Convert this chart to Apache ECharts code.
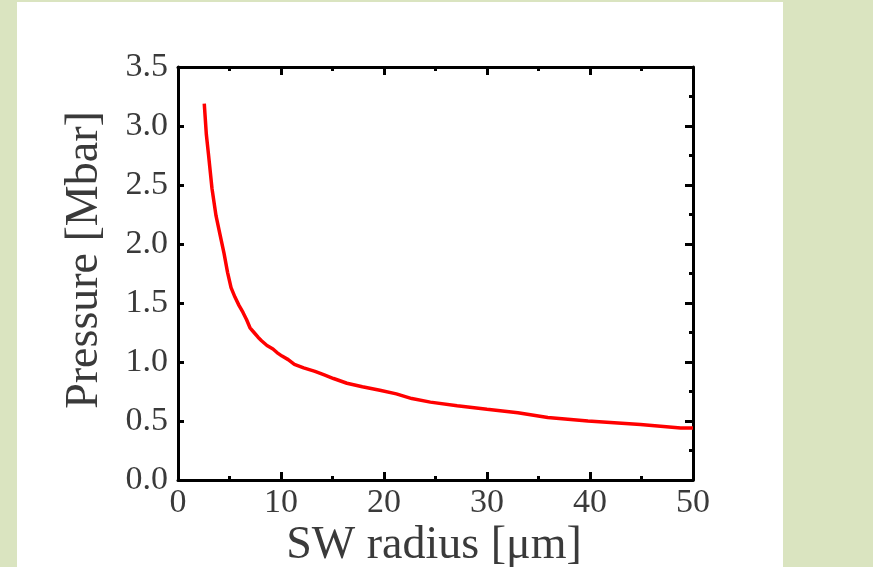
<!DOCTYPE html>
<html>
<head>
<meta charset="utf-8">
<script src="https://cdn.jsdelivr.net/npm/echarts@6/dist/echarts.min.js"></script>
<style>
html,body{margin:0;padding:0;width:873px;height:567px;overflow:hidden;background:#dae4c0;}
#panel{position:absolute;left:17px;top:2px;width:766px;height:565px;background:#ffffff;}
#chart{position:absolute;left:0;top:0;width:873px;height:567px;}
</style>
</head>
<body>
<div id="panel"></div>
<div id="chart"></div>
<script>
// Data
const radius = [2.55, 2.75, 2.96, 3.30, 3.69, 4.08, 4.47, 4.81, 5.15, 5.53, 5.92, 6.31, 6.65, 6.99, 7.38, 7.77, 8.11, 8.64, 9.22, 9.61, 10.1, 10.7, 11.3, 12.2, 13.3, 14.2, 15.1, 16.4, 17.9, 19.6, 21.2, 22.7, 24.5, 27.1, 30.0, 33.0, 35.9, 39.8, 44.9, 48.8, 50.0];
const pressure = [3.19, 2.93, 2.76, 2.47, 2.24, 2.08, 1.92, 1.76, 1.63, 1.55, 1.48, 1.42, 1.36, 1.29, 1.25, 1.21, 1.18, 1.14, 1.11, 1.08, 1.05, 1.02, 0.98, 0.95, 0.92, 0.89, 0.86, 0.82, 0.79, 0.76, 0.73, 0.69, 0.66, 0.63, 0.60, 0.57, 0.53, 0.50, 0.47, 0.44, 0.44];
const xTitle = 'SW radius [μm]';
const yTitle = 'Pressure [Mbar]';

const font = 'Liberation Serif';
const labelColor = '#3a3a3a';

const chart = echarts.init(document.getElementById('chart'), null, {renderer: 'canvas'});

const lineStyle = {color: '#000', width: 3};
const tickStyle = {color: '#000', width: 3};

chart.setOption({
  backgroundColor: 'transparent',
  animation: false,
  grid: {left: 178, top: 67, width: 515, height: 413, containLabel: false},
  xAxis: [
    {
      type: 'value', position: 'bottom', min: 0, max: 50, interval: 10,
      axisLine: {show: true, onZero: false, lineStyle: lineStyle},
      axisTick: {show: true, inside: true, length: 8, lineStyle: tickStyle},
      minorTick: {show: true, splitNumber: 2, length: 4, lineStyle: tickStyle},
      splitLine: {show: false},
      axisLabel: {fontFamily: font, fontSize: 34, color: labelColor, margin: 6}
    },
    {
      type: 'value', position: 'top', min: 0, max: 50, interval: 10,
      axisLine: {show: true, onZero: false, lineStyle: lineStyle},
      axisTick: {show: true, inside: true, length: 8, lineStyle: tickStyle},
      minorTick: {show: true, splitNumber: 2, length: 4, lineStyle: tickStyle},
      splitLine: {show: false},
      axisLabel: {show: false}
    }
  ],
  yAxis: [
    {
      type: 'value', position: 'left', min: 0, max: 3.5, interval: 0.5,
      axisLine: {show: true, onZero: false, lineStyle: lineStyle},
      axisTick: {show: true, inside: true, length: 6, lineStyle: tickStyle},
      splitLine: {show: false},
      axisLabel: {fontFamily: font, fontSize: 34, color: labelColor, margin: 10,
        formatter: v => v.toFixed(1)}
    },
    {
      type: 'value', position: 'right', min: 0, max: 3.5, interval: 0.5,
      axisLine: {show: true, onZero: false, lineStyle: lineStyle},
      axisTick: {show: true, inside: true, length: 8, lineStyle: tickStyle},
      minorTick: {show: true, splitNumber: 2, length: 4, lineStyle: tickStyle},
      splitLine: {show: false},
      axisLabel: {show: false}
    }
  ],
  graphic: [
    {
      type: 'text', x: 434, y: 546,
      style: {text: xTitle, fontFamily: font, fontSize: 46, fill: labelColor,
        textAlign: 'center', textVerticalAlign: 'middle'}
    },
    {
      type: 'text', x: 85, y: 260, rotation: Math.PI / 2,
      style: {text: yTitle, fontFamily: font, fontSize: 46, fill: labelColor,
        textAlign: 'center', textVerticalAlign: 'middle'}
    }
  ],
  series: [
    {
      type: 'line', xAxisIndex: 0, yAxisIndex: 0,
      data: radius.map((r, i) => [r, pressure[i]]),
      showSymbol: false, symbol: 'none', smooth: false,
      lineStyle: {color: '#ff0000', width: 3.5},
      clip: true
    }
  ]
});
</script>
</body>
</html>
